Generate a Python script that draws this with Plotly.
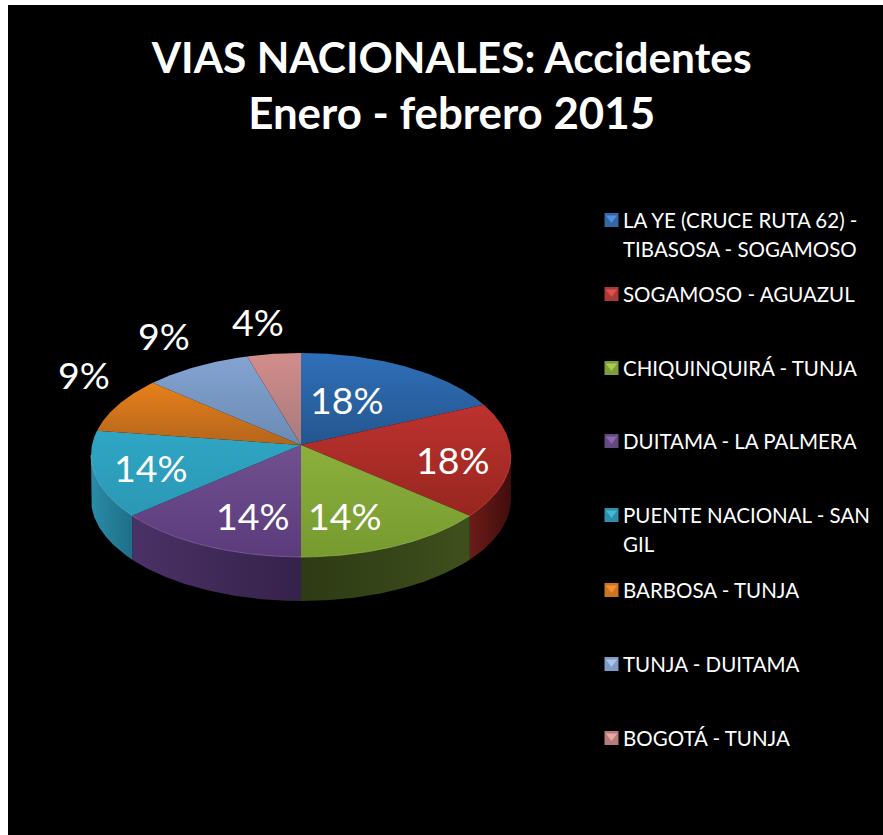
import math
import plotly.graph_objects as go

# --- data ---
categories = ["LA YE (CRUCE RUTA 62) -<br>TIBASOSA - SOGAMOSO", "SOGAMOSO - AGUAZUL",
              "CHIQUINQUIRÁ - TUNJA", "DUITAMA - LA PALMERA",
              "PUENTE NACIONAL - SAN<br>GIL", "BARBOSA - TUNJA",
              "TUNJA - DUITAMA", "BOGOTÁ - TUNJA"]
accidents = [4, 4, 3, 3, 3, 2, 2, 1]
pct_labels = ["18%", "18%", "14%", "14%", "14%", "9%", "9%", "4%"]

# --- styles ---
top_colors = [("#24568f", "#2f6fb8"), ("#97261f", "#bd322f"), ("#779a30", "#8bb03c"),
              ("#5c3b7c", "#70508f"), ("#2a98b4", "#2fa6c4"), ("#b4651c", "#e8801b"),
              ("#6a8bb3", "#84a3d2"), ("#a87a7c", "#d28d8b")]
wall_colors = [None, ("#6e1c19", "#3f0d0c"), ("#2d3a14", "#3f4f1c"), ("#4b3166", "#35224a"),
               ("#2a8ba8", "#1e6f87"), None, None, None]
rim_colors = ["#3f7fc8", "#cf4a46", "#9cc050", "#8a6cab", "#5fbcd4", "#ef9a45", "#a0b8de", "#e0a6a4"]
legend_mid = ["#3465a4", "#a93a38", "#7f9c3d", "#64497f", "#2f8fab", "#cc7420", "#7f9bc6", "#b57c7a"]
legend_light = ["#4f8fe0", "#e0504c", "#a9cc50", "#8a68b0", "#45b8d8", "#f49030", "#a8c4ee", "#e8a8a6"]
legend_y = [220, 294, 368, 441, 515, 590, 664, 738]
LEGEND_LINE = 29
label_xy = [(347, 399), (453, 459), (345, 515), (253, 515), (151, 467), (84, 374), (164, 335), (258, 321)]

CX, CY, BX, AY, K, DEPTH = 301, 445, 209, 101, 0.098, 44


def rim(theta):
    """Projected rim point at clockwise angle theta from the top of the disc."""
    u, v = math.sin(theta), -math.cos(theta)
    d = 1 - K * v
    return CX + BX * u / d, CY + AY * v / d


def arc(a, b):
    n = max(2, int(abs(b - a) / 0.01))
    return [rim(a + (b - a) * i / n) for i in range(n + 1)]


total = sum(accidents)
edges = [0.0]
for val in accidents:
    edges.append(edges[-1] + val / total * 2 * math.pi)

front_lo = math.acos(-K)
front_hi = 2 * math.pi - front_lo

fig = go.Figure()

# side walls
for i in range(len(accidents)):
    a, b = max(edges[i], front_lo), min(edges[i + 1], front_hi)
    if b <= a or wall_colors[i] is None:
        continue
    pts = arc(a, b)
    x = [p[0] for p in pts] + [p[0] for p in reversed(pts)] + [pts[0][0]]
    y = [p[1] for p in pts] + [p[1] + DEPTH for p in reversed(pts)] + [pts[0][1]]
    fig.add_trace(go.Scatter(
        x=x, y=y, mode="lines", fill="toself", line=dict(width=0), showlegend=False, hoverinfo="skip",
        fillgradient=dict(type="horizontal",
                          colorscale=[[0, wall_colors[i][0]], [1, wall_colors[i][1]]])))

# top faces
for i, cat in enumerate(categories):
    pts = arc(edges[i], edges[i + 1])
    x = [CX] + [p[0] for p in pts] + [CX]
    y = [CY] + [p[1] for p in pts] + [CY]
    fig.add_trace(go.Scatter(
        x=x, y=y, mode="lines", fill="toself", line=dict(width=0), showlegend=False,
        name=cat.replace("<br>", " "), hoverinfo="name",
        fillgradient=dict(type="vertical",
                          colorscale=[[0, top_colors[i][0]], [1, top_colors[i][1]]])))

# front rim highlight
for i in range(len(accidents)):
    a, b = max(edges[i], front_lo), min(edges[i + 1], front_hi)
    if b <= a:
        continue
    pts = arc(a, b)
    fig.add_trace(go.Scatter(x=[p[0] for p in pts], y=[p[1] for p in pts], mode="lines",
                             line=dict(width=1, color=rim_colors[i]), opacity=0.7,
                             showlegend=False, hoverinfo="skip"))

# legend keys and texts
for i, cat in enumerate(categories):
    fig.add_trace(go.Scatter(x=[611.5], y=[legend_y[i]], mode="markers", showlegend=False, hoverinfo="skip",
                             marker=dict(symbol="square", size=14, color=legend_mid[i], line=dict(width=0))))
    fig.add_trace(go.Scatter(x=[611.5], y=[legend_y[i] - 2], mode="markers", showlegend=False, hoverinfo="skip",
                             marker=dict(symbol="triangle-down", size=10, color=legend_light[i], line=dict(width=0))))
    for j, line in enumerate(cat.split("<br>")):
        fig.add_annotation(x=621, y=legend_y[i] - 14 + j * LEGEND_LINE, text=line, showarrow=False,
                           xanchor="left", yanchor="top", align="left",
                           font=dict(family="Lato", size=20.5, color="white"))

for txt, (lx, ly) in zip(pct_labels, label_xy):
    fig.add_annotation(x=lx, y=ly, text=txt, showarrow=False, xanchor="center", yanchor="middle",
                       font=dict(family="Lato", size=37.5, color="white"))

fig.update_layout(
    width=883, height=835, autosize=False,
    paper_bgcolor="white", plot_bgcolor="black",
    margin=dict(l=8, t=5, r=0, b=0),
    showlegend=False,
    title=dict(text="<b>VIAS NACIONALES: Accidentes<br><span style='font-size:43.8px'>Enero - febrero 2015</span></b>",
               x=0.507, xref="paper", xanchor="center", y=0.912, yanchor="middle",
               font=dict(family="Lato", size=42.4, color="white")),
    xaxis=dict(range=[8, 883], visible=False, fixedrange=True),
    yaxis=dict(range=[835, 5], visible=False, fixedrange=True),
)
fig.write_html("out.html", config={"displayModeBar": False},
               post_script="document.body.style.margin='0';document.documentElement.style.overflow='hidden';")
